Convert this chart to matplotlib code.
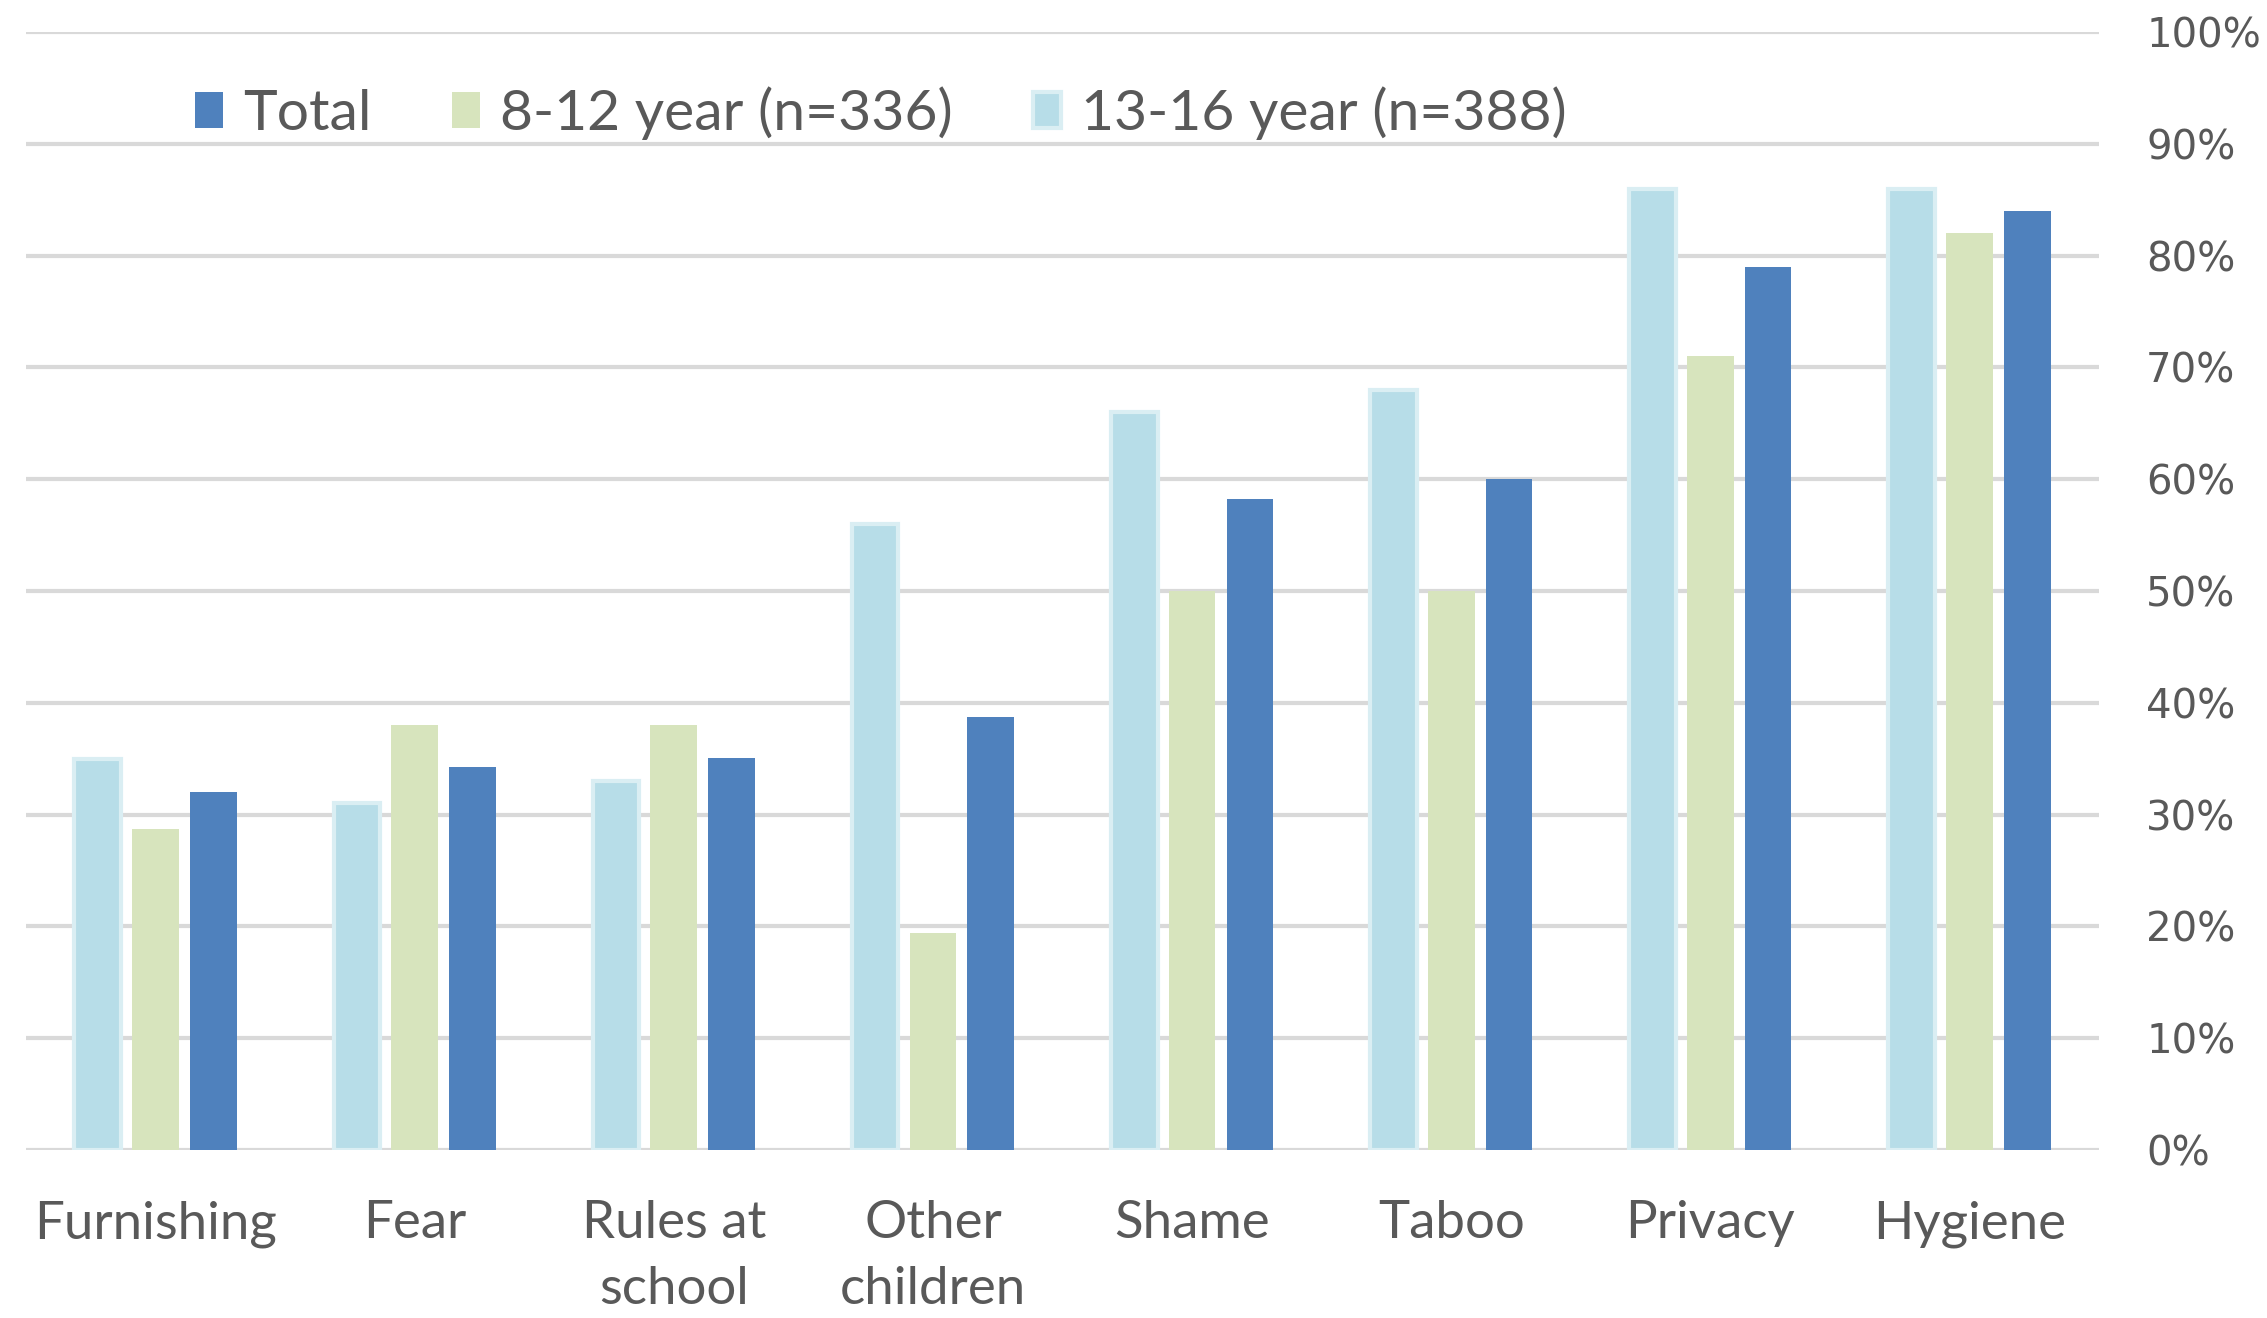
import matplotlib.pyplot as plt
import numpy as np
from matplotlib.ticker import PercentFormatter

# Dữ liệu
categories = ['Furnishing', 'Fear', 'Rules at\nschool', 'Other\nchildren',
              'Shame', 'Taboo', 'Privacy', 'Hygiene']
age_13_16 = [35, 31, 33, 56, 66, 68, 86, 86]
age_8_12 = [28.7, 38, 38, 19.4, 50, 50, 71, 82]
total = [32, 34.3, 35.1, 38.7, 58.2, 60, 79, 84]

series_labels = ['Total', '8-12 year (n=336)', '13-16 year (n=388)']
y_ticks = [0, 10, 20, 30, 40, 50, 60, 70, 80, 90, 100]

text_color = '#595959'
grid_color = '#D9D9D9'

fig = plt.figure(figsize=(22.67, 13.18), dpi=100)
ax = fig.add_axes([26 / 2267, 1 - 1150 / 1318, (2099 - 26) / 2267, (1150 - 32) / 1318])

x = np.arange(len(categories))
w = 0.18
off = 0.223

b1 = ax.bar(x - off, age_13_16, w, color='#B7DDE8', edgecolor='#DAEEF3', linewidth=3, zorder=3)
b2 = ax.bar(x, age_8_12, w, color='#D7E4BD', zorder=3)
b3 = ax.bar(x + off, total, w, color='#4F81BD', zorder=3)

ax.set_xlim(-0.5, len(categories) - 0.5)
ax.set_ylim(0, 100)
ax.set_yticks(y_ticks)
ax.yaxis.set_major_formatter(PercentFormatter(decimals=0))
ax.yaxis.tick_right()
ax.grid(axis='y', color=grid_color, linewidth=3, zorder=0)
ax.set_axisbelow(True)
for s in ax.spines.values():
    s.set_visible(False)

ax.tick_params(axis='y', length=0, pad=34, labelsize=29, labelcolor=text_color,
               labelfontfamily='DejaVu Sans')

ax.set_xticks(x)
ax.set_xticklabels(categories, fontsize=38, color=text_color, family='Lato', linespacing=1.5)
ax.tick_params(axis='x', length=0, pad=36)

leg = fig.legend([b3, b2, b1], series_labels, loc='center left',
                 bbox_to_anchor=(195 / 2267, 1 - 113 / 1318), ncol=3, frameon=False,
                 borderpad=0, borderaxespad=0, handlelength=0.5, handleheight=0.6,
                 handletextpad=0.35, columnspacing=1.4,
                 prop={'family': 'Lato', 'size': 41})
for t in leg.get_texts():
    t.set_color(text_color)

fig.savefig('out.png', dpi=100)
